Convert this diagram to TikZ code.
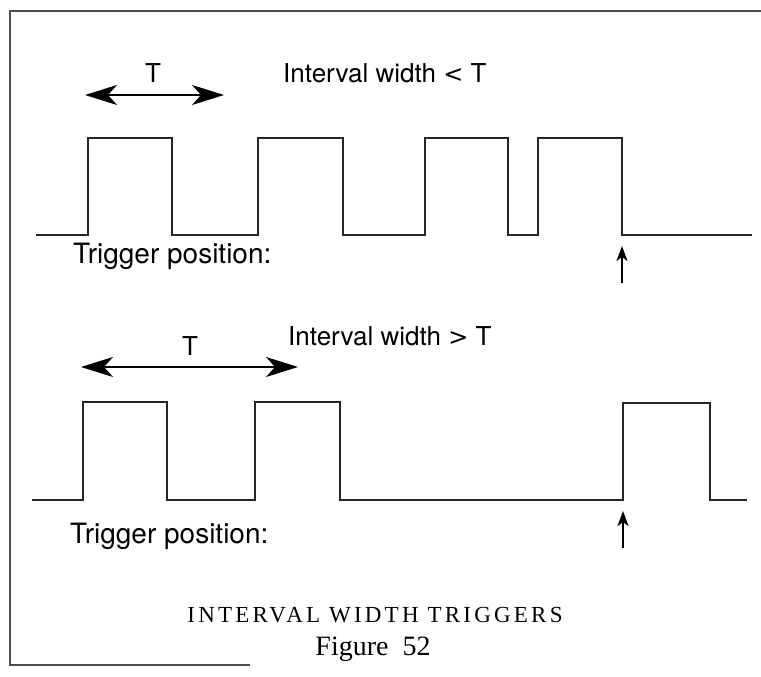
\documentclass[tikz,border=0pt]{standalone}
\usepackage{fontspec}
\setmainfont{Liberation Serif}
\newfontfamily\lblfont{TeX Gyre Heros}
\newfontfamily\symfont{DejaVu Sans}
\newfontfamily\capfont[LetterSpace=14]{Liberation Serif}
\usetikzlibrary{arrows.meta}
\tikzset{
  bighead/.tip={Stealth[length=32pt,width=20pt,inset=9pt]},
  smallhead/.tip={Stealth[length=15pt,width=11pt,inset=4pt]}
}
\begin{document}
\begin{tikzpicture}[x=1pt,y=-1pt,
  wave/.style={line width=2.4pt, line join=miter, color=black!85},
  frame/.style={line width=1.8pt, color=black!70},
  span/.style={line width=1.8pt, bighead-bighead},
  trig/.style={line width=2pt, -smallhead},
  lbl/.style={font=\lblfont\fontsize{26}{30}\selectfont, inner sep=0pt},
  plbl/.style={font=\lblfont\fontsize{28}{32}\selectfont, inner sep=0pt}]
\useasboundingbox (0,0) rectangle (761,677);
% frame
\draw[frame] (761,11) -- (10,11) -- (10,665) -- (250,665);
% top waveform
\draw[wave] (36,235) -- (88,235) -- (88,138) -- (172,138) -- (172,235) -- (258,235) -- (258,138) -- (343,138) -- (343,235)
  -- (425,235) -- (425,138) -- (508,138) -- (508,235) -- (538,235) -- (538,138) -- (622,138) -- (622,235) -- (752,235);
\coordinate (t1a) at (85,95); \coordinate (t1b) at (224,95);
\draw[span] (t1a) -- (t1b);
\node[lbl, anchor=base] (T1) at (153,82) {T};
\node[lbl, anchor=base west] (I1) at (283,83) {Interval width {\symfont\fontsize{24}{28}\selectfont<} T};
\node[plbl, anchor=base west] (P1) at (73,263) {Trigger position:};
\coordinate (a1s) at (622,283); \coordinate (a1e) at (622,246);
\draw[trig] (a1s) -- (a1e);
% bottom waveform
\draw[wave] (32,500) -- (83,500) -- (83,402) -- (167,402) -- (167,500) -- (255,500) -- (255,402) -- (340,402) -- (340,500)
  -- (623,500) -- (623,403) -- (710,403) -- (710,500) -- (747,500);
\coordinate (t2a) at (81,367); \coordinate (t2b) at (298,367);
\draw[span] (t2a) -- (t2b);
\node[lbl, anchor=base] (T2) at (190,355) {T};
\node[lbl, anchor=base west] (I2) at (288,345) {Interval width {\symfont\fontsize{24}{28}\selectfont>} T};
\node[plbl, anchor=base west] (P2) at (70,543) {Trigger position:};
\coordinate (a2s) at (623,548); \coordinate (a2e) at (623,511);
\draw[trig] (a2s) -- (a2e);
% caption
\node[font=\capfont\fontsize{23}{26}\selectfont, anchor=base, inner sep=0pt] (cap) at (375,622) {INTERVAL WIDTH TRIGGERS};
\node[font=\fontsize{28}{30}\selectfont, anchor=base, inner sep=0pt] (fig) at (373,655) {Figure\ \ 52};
\end{tikzpicture}
\end{document}
